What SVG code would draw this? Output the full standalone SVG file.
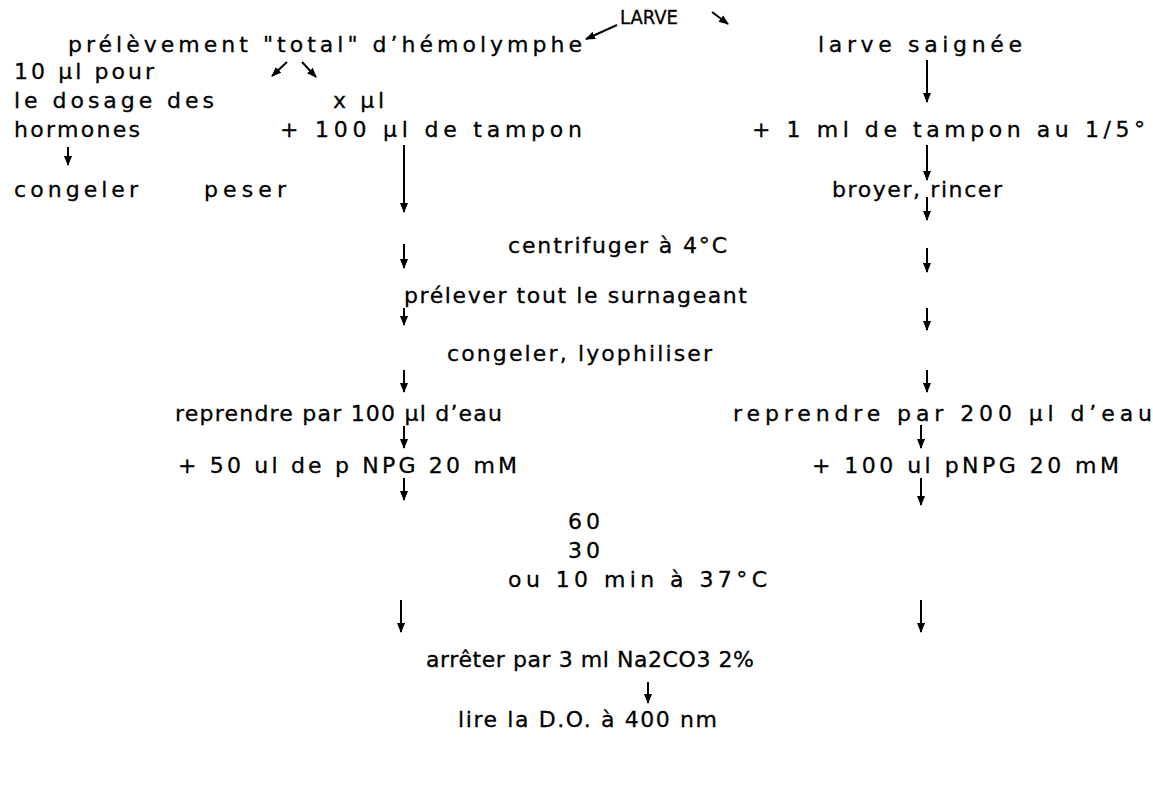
<svg xmlns="http://www.w3.org/2000/svg" width="1153" height="805" viewBox="0 0 1153 805">
<defs>
<style>
text{font-family:"DejaVu Sans","Liberation Sans",sans-serif;font-size:22px;fill:#000;stroke:#000;stroke-width:0.3}
.c line{stroke:#000;stroke-width:2;fill:none}
</style>
<marker id="ah" markerUnits="userSpaceOnUse" markerWidth="10" markerHeight="12" refX="9" refY="5" orient="auto">
<path d="M0,1 L10,5 L0,9 Z" fill="#000"/>
</marker>
</defs>
<rect width="1153" height="805" fill="#fff"/>
<g id="n-larve"><text x="620" y="24" textLength="58" lengthAdjust="spacingAndGlyphs" style="font-size:19px">LARVE</text></g>
<g id="n-prelevement"><text x="68" y="52" textLength="514" lengthAdjust="spacing">prélèvement "total" d’hémolymphe</text></g>
<g id="n-saignee"><text x="818" y="52" textLength="204" lengthAdjust="spacing">larve saignée</text></g>
<g id="n-10ul"><text x="14" y="79" textLength="140" lengthAdjust="spacing">10 µl pour</text><text x="14" y="108" textLength="200" lengthAdjust="spacing">le dosage des</text><text x="14" y="137" textLength="126" lengthAdjust="spacing">hormones</text></g>
<g id="n-xul"><text x="333" y="108" textLength="51" lengthAdjust="spacing">x µl</text><text x="280" y="137" textLength="302" lengthAdjust="spacing">+ 100 µl de tampon</text></g>
<g id="n-tampon"><text x="752" y="137" textLength="393" lengthAdjust="spacing">+ 1 ml de tampon au 1/5°</text></g>
<g id="n-congeler"><text x="14" y="197" textLength="124" lengthAdjust="spacing">congeler</text></g>
<g id="n-peser"><text x="204" y="197" textLength="82" lengthAdjust="spacing">peser</text></g>
<g id="n-broyer"><text x="832" y="197" textLength="170" lengthAdjust="spacing">broyer, rincer</text></g>
<g id="n-centrifuger"><text x="508" y="253" textLength="219" lengthAdjust="spacing">centrifuger à 4°C</text></g>
<g id="n-surnageant"><text x="404" y="303" textLength="343" lengthAdjust="spacing">prélever tout le surnageant</text></g>
<g id="n-lyophiliser"><text x="447" y="361" textLength="265" lengthAdjust="spacing">congeler, lyophiliser</text></g>
<g id="n-reprendre100"><text x="175" y="421" textLength="327" lengthAdjust="spacing">reprendre par 100 µl d’eau</text></g>
<g id="n-reprendre200"><text x="733" y="421" textLength="419" lengthAdjust="spacing">reprendre par 200 µl d’eau</text></g>
<g id="n-pnpg50"><text x="178" y="473" textLength="339" lengthAdjust="spacing">+ 50 ul de p NPG 20 mM</text></g>
<g id="n-pnpg100"><text x="812" y="473" textLength="307" lengthAdjust="spacing">+ 100 ul pNPG 20 mM</text></g>
<g id="n-incubation"><text x="568" y="529" textLength="32" lengthAdjust="spacing">60</text><text x="568" y="558" textLength="32" lengthAdjust="spacing">30</text><text x="508" y="587" textLength="259" lengthAdjust="spacing">ou 10 min à 37°C</text></g>
<g id="n-arreter"><text x="426" y="667" textLength="328" lengthAdjust="spacing">arrêter par 3 ml Na2CO3 2%</text></g>
<g id="n-lire"><text x="458" y="727" textLength="259" lengthAdjust="spacing">lire la D.O. à 400 nm</text></g>
<g id="connectors" class="c">
<line x1="617" y1="25" x2="586" y2="39" marker-end="url(#ah)"/>
<line x1="712" y1="12" x2="728" y2="24" marker-end="url(#ah)"/>
<line x1="287" y1="62" x2="272" y2="76" marker-end="url(#ah)"/>
<line x1="302" y1="62" x2="316" y2="77" marker-end="url(#ah)"/>
<line x1="68" y1="147" x2="68" y2="165" marker-end="url(#ah)"/>
<line x1="927" y1="60" x2="927" y2="102" marker-end="url(#ah)"/>
<line x1="404" y1="145" x2="404" y2="212" marker-end="url(#ah)"/>
<line x1="927" y1="145" x2="927" y2="180" marker-end="url(#ah)"/>
<line x1="927" y1="197" x2="927" y2="220" marker-end="url(#ah)"/>
<line x1="404" y1="244" x2="404" y2="268" marker-end="url(#ah)"/>
<line x1="927" y1="248" x2="927" y2="272" marker-end="url(#ah)"/>
<line x1="404" y1="308" x2="404" y2="325" marker-end="url(#ah)"/>
<line x1="927" y1="308" x2="927" y2="330" marker-end="url(#ah)"/>
<line x1="404" y1="370" x2="404" y2="392" marker-end="url(#ah)"/>
<line x1="927" y1="370" x2="927" y2="392" marker-end="url(#ah)"/>
<line x1="404" y1="426" x2="404" y2="448" marker-end="url(#ah)"/>
<line x1="921" y1="425" x2="921" y2="448" marker-end="url(#ah)"/>
<line x1="404" y1="478" x2="404" y2="500" marker-end="url(#ah)"/>
<line x1="921" y1="478" x2="921" y2="505" marker-end="url(#ah)"/>
<line x1="401" y1="600" x2="401" y2="632" marker-end="url(#ah)"/>
<line x1="921" y1="600" x2="921" y2="632" marker-end="url(#ah)"/>
<line x1="648" y1="682" x2="648" y2="703" marker-end="url(#ah)"/>
</g>
</svg>
